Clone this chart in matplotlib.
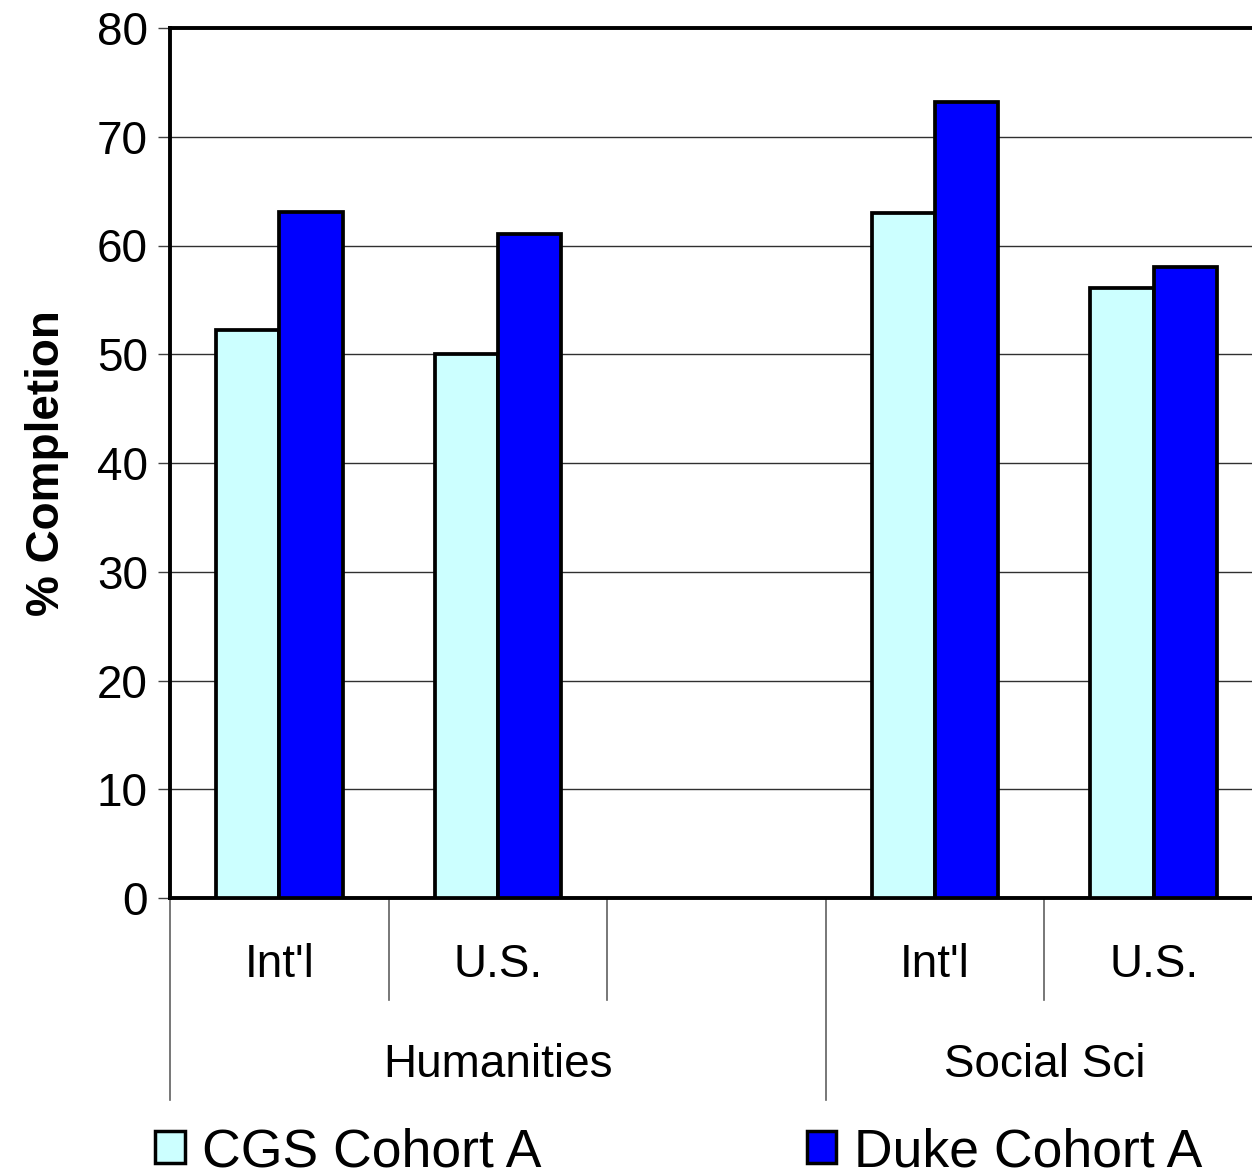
import matplotlib.pyplot as plt
import matplotlib.transforms as mtransforms
from matplotlib.patches import Patch

plt.rcParams['font.family'] = ['Liberation Sans', 'DejaVu Sans']

# completion rates per group (slot 2 is an empty spacer between fields)
slots = ["Int'l", "U.S.", "", "Int'l", "U.S."]
fields = ["Humanities", "Social Sci"]
field_centers = [1, 3.5]
cgs = [52.2, 50.0, None, 63.0, 56.1]
duke = [63.1, 61.1, None, 73.2, 58.0]
series_names = ["CGS Cohort A", "Duke Cohort A"]
colors = ["#CCFFFF", "#0000FF"]

fig = plt.figure(figsize=(12.52, 11.75), dpi=100)
ax = fig.add_axes([170/1252, 1-898/1175, 1093/1252, 870/1175])

w = 0.29
xs = [i for i, v in enumerate(cgs) if v is not None]
ax.bar([x - w/2 for x in xs], [cgs[x] for x in xs], width=w, color=colors[0],
       edgecolor='black', linewidth=2.7, zorder=3)
ax.bar([x + w/2 for x in xs], [duke[x] for x in xs], width=w, color=colors[1],
       edgecolor='black', linewidth=2.7, zorder=3)

ax.set_xlim(-0.5, 4.5)
ax.set_ylim(0, 80)
ax.set_yticks(range(0, 81, 10))
ax.yaxis.grid(True, color='#303030', linewidth=1.0)
ax.set_axisbelow(True)
ax.tick_params(axis='y', direction='out', length=9, width=1, pad=7, labelsize=33, color='#404040')
ax.set_xticks([])
for s in ax.spines.values():
    s.set_linewidth(2.8)
ax.set_ylabel('% Completion', fontsize=33, fontweight='bold', labelpad=20)

# two-level category axis below the plot
trans = mtransforms.blended_transform_factory(ax.transData, ax.transAxes)
for x, lab in enumerate(slots):
    if lab:
        ax.text(x, -0.077, lab, transform=trans, ha='center', va='center', fontsize=33)
for c, lab in zip(field_centers, fields):
    ax.text(c, -0.192, lab, transform=trans, ha='center', va='center', fontsize=33)
for x in [-0.5, 0.5, 1.5, 2.5, 3.5]:
    y_end = -0.232 if x in (-0.5, 2.5) else -0.117
    ax.plot([x, x], [0, y_end], transform=trans, color='#606060', linewidth=1.2, clip_on=False)

handles = [Patch(facecolor=c, edgecolor='black', linewidth=2.5) for c in colors]
fig.legend(handles, series_names, loc='lower left', bbox_to_anchor=(134/1252, -0.02),
           ncol=2, fontsize=38.5, frameon=False, handlelength=0.55, handleheight=0.55,
           handletextpad=0.33, columnspacing=4.95, borderaxespad=0)

fig.savefig('out.png', dpi=100)
